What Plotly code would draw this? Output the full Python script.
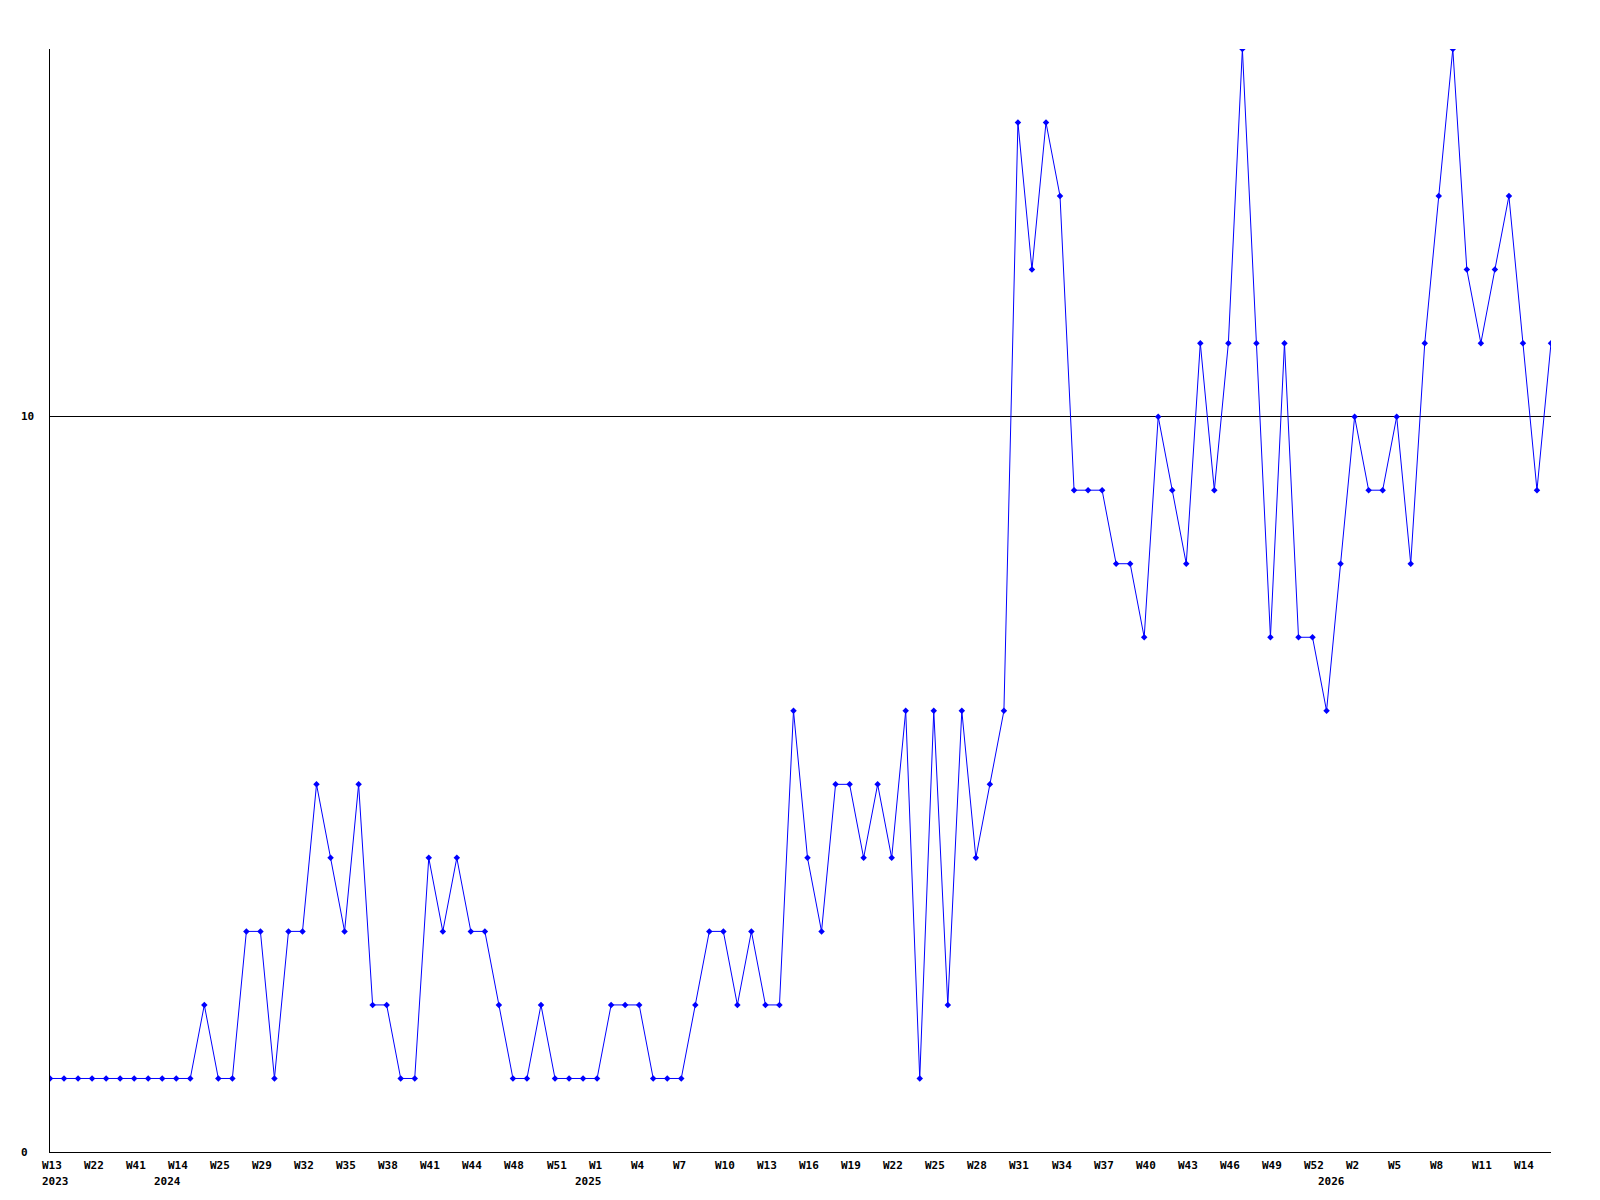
import plotly.graph_objects as go

# weekly counts, one point per week shown on the chart
counts = [1, 1, 1, 1, 1, 1, 1, 1, 1, 1,
          1, 2, 1, 1, 3, 3, 1, 3, 3, 5,
          4, 3, 5, 2, 2, 1, 1, 4, 3, 4,
          3, 3, 2, 1, 1, 2, 1, 1, 1, 1,
          2, 2, 2, 1, 1, 1, 2, 3, 3, 2,
          3, 2, 2, 6, 4, 3, 5, 5, 4, 5,
          4, 6, 1, 6, 2, 6, 4, 5, 6, 14,
          12, 14, 13, 9, 9, 9, 8, 8, 7, 10,
          9, 8, 11, 9, 11, 15, 11, 7, 11, 7,
          7, 6, 8, 10, 9, 9, 10, 8, 11, 13,
          15, 12, 11, 12, 13, 11, 9, 11]

# week labels, shown on every third point
week_labels = ["W13", "W22", "W41", "W14", "W25", "W29", "W32", "W35", "W38",
               "W41", "W44", "W48", "W51", "W1", "W4", "W7", "W10", "W13",
               "W16", "W19", "W22", "W25", "W28", "W31", "W34", "W37", "W40",
               "W43", "W46", "W49", "W52", "W2", "W5", "W8", "W11", "W14"]
week_step = 3

# year labels, placed at the first point of each year
year_pos = [0, 8, 38, 91]
year_labels = ["2023", "2024", "2025", "2026"]

y_labels = [0, 10]

x = list(range(len(counts)))

fig = go.Figure()
fig.add_trace(go.Scatter(
    x=x, y=counts, mode="lines+markers",
    line=dict(color="#0000ff", width=1),
    marker=dict(symbol="diamond", size=5, color="#0000ff"),
    hoverinfo="y",
))

lab_font = dict(family="DejaVu Sans Mono", size=11, color="black")

annotations = []
for i, t in enumerate(week_labels):
    annotations.append(dict(
        x=i * week_step, y=0, xref="x", yref="paper", text="<b>%s</b>" % t,
        showarrow=False, xanchor="left", yanchor="middle",
        xshift=-10.5, yshift=-13, font=lab_font))
for p, t in zip(year_pos, year_labels):
    annotations.append(dict(
        x=p, y=0, xref="x", yref="paper", text="<b>%s</b>" % t,
        showarrow=False, xanchor="left", yanchor="middle",
        xshift=-10.5, yshift=-29, font=lab_font))
for v in y_labels:
    annotations.append(dict(
        x=0, y=v, xref="paper", yref="y", text="<b>%d</b>" % v,
        showarrow=False, xanchor="left", yanchor="middle",
        xshift=-31, font=lab_font))

# the page puts the figure 8px in from the top-left corner
fig.update_layout(
    width=1600, height=1200,
    margin=dict(l=42, r=57, t=41, b=56),
    paper_bgcolor="white", plot_bgcolor="white",
    showlegend=False,
    annotations=annotations,
    xaxis=dict(range=[0, 107], showgrid=False, zeroline=False,
               showline=True, linecolor="black", linewidth=1,
               showticklabels=False, ticks=""),
    yaxis=dict(range=[0, 15], tickvals=[10], showgrid=True,
               gridcolor="black", gridwidth=1, zeroline=False,
               showline=True, linecolor="black", linewidth=1,
               showticklabels=False, ticks=""),
)

fig.write_html("out.html")
